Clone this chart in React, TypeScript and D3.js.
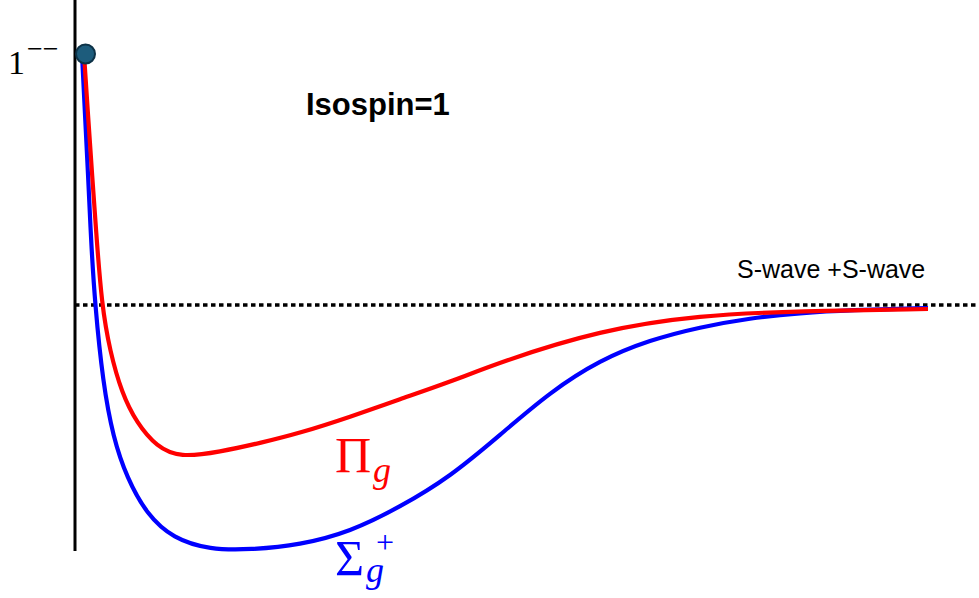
import React from "react";
import * as d3 from "d3";

// Σg+ potential (blue)
const sigmaR = [0.07, 0.10, 0.13, 0.16, 0.20, 0.28, 0.38, 0.52, 0.72, 0.98, 1.35, 1.75, 2.25, 2.75, 3.25, 3.75, 4.25, 4.75, 5.25, 5.75, 6.25, 6.75, 7.25, 7.75, 8.53];
const sigmaV = [1.0, 0.757, 0.526, 0.259, 0.0, -0.311, -0.526, -0.69, -0.835, -0.93, -0.975, -0.975, -0.956, -0.904, -0.805, -0.685, -0.518, -0.347, -0.219, -0.139, -0.088, -0.052, -0.032, -0.02, -0.012];

// Πg potential (red)
const piR = [0.09, 0.13, 0.17, 0.21, 0.267, 0.35, 0.467, 0.617, 0.817, 1.05, 1.45, 1.85, 2.25, 2.75, 3.25, 3.75, 4.25, 5.25, 6.25, 7.25, 8.53];
const piV = [1.0, 0.757, 0.526, 0.299, 0.0, -0.185, -0.35, -0.47, -0.565, -0.608, -0.585, -0.55, -0.51, -0.446, -0.375, -0.307, -0.227, -0.1, -0.04, -0.024, -0.016];

// Bound state marker (1^{--}) and threshold
const stateR = [0.1];
const stateV = [1.0];
const thresholdV = 0;

const W = 979;
const H = 598;

export default function App() {
  const x = d3.scaleLinear().domain([0, 9]).range([75, 975]);
  const y = d3.scaleLinear().domain([-1, 1]).range([556, 54]);

  const line = d3
    .line<[number, number]>()
    .x((d) => x(d[0]))
    .y((d) => y(d[1]))
    .curve(d3.curveBasis);

  const sigmaPts = sigmaR.map((r, i) => [r, sigmaV[i]] as [number, number]);
  const piPts = piR.map((r, i) => [r, piV[i]] as [number, number]);

  const serif = "'Liberation Serif', 'DejaVu Serif', serif";
  const sans = "'Liberation Sans', Arial, sans-serif";

  return (
    <div style={{ position: "fixed", left: 0, top: 0, width: W, height: H, background: "#fff" }}>
      <svg width={W} height={H} style={{ display: "block" }}>
        <rect width={W} height={H} fill="#fff" />
        {/* vertical axis */}
        <line x1={x(0)} x2={x(0)} y1={0} y2={y(-0.98)} stroke="#000" strokeWidth={3} />
        {/* threshold dotted line */}
        <line
          x1={x(0)}
          x2={W}
          y1={y(thresholdV)}
          y2={y(thresholdV)}
          stroke="#000"
          strokeWidth={3.5}
          strokeDasharray="4.5 3.5"
        />
        {/* curves */}
        <path d={line(sigmaPts) || ""} fill="none" stroke="#0000ff" strokeWidth={4.2} strokeLinecap="butt" />
        <path d={line(piPts) || ""} fill="none" stroke="#ff0000" strokeWidth={4.2} strokeLinecap="butt" />
        {/* state dot */}
        {stateR.map((r, i) => (
          <circle key={i} cx={x(r) + 0.5} cy={y(stateV[i])} r={9.5} fill="#1d5c7c" stroke="#0d3247" strokeWidth={2} />
        ))}
        {/* 1^{--} label */}
        <text x={8} y={74} fontFamily={serif} fontSize={34} fill="#000">
          1
          <tspan dx={2} dy={-16} fontSize={28}>−−</tspan>
        </text>
        {/* Isospin=1 */}
        <text x={306} y={115} fontFamily={sans} fontWeight="bold" fontSize={31} fill="#000">
          Isospin=1
        </text>
        {/* S-wave +S-wave */}
        <text x={737} y={278} fontFamily={sans} fontSize={25} fill="#000">
          S-wave +S-wave
        </text>
        {/* Πg */}
        <text x={335} y={472} fontFamily={serif} fontSize={50} fill="#ff0000">
          Π
          <tspan dx={2} dy={10} fontSize={36} fontStyle="italic">g</tspan>
        </text>
        {/* Σg */}
        <text x={335} y={575} fontFamily={serif} fontSize={50} fill="#0000ff">
          Σ
          <tspan dx={2} dy={7} fontSize={36} fontStyle="italic">g</tspan>
        </text>
        {/* superscript + */}
        <text x={376} y={553} fontFamily={serif} fontSize={32} fill="#0000ff">
          +
        </text>
      </svg>
    </div>
  );
}
